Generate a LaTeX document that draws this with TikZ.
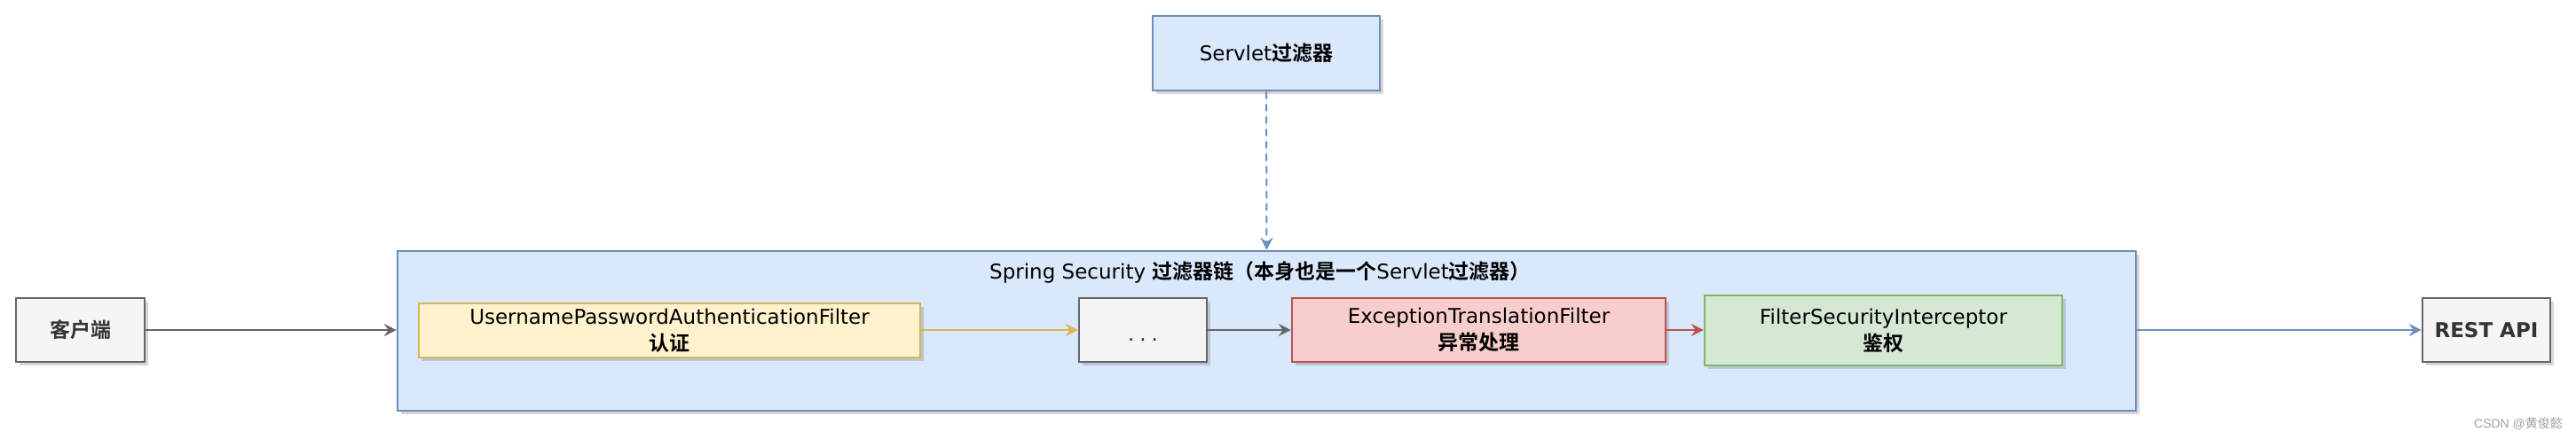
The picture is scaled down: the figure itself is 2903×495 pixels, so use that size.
\documentclass[tikz,border=0pt]{standalone}
\usepackage{fontspec}
\setmainfont{DejaVu Sans}
\newfontfamily\cjk{Noto Sans CJK SC}[BoldFont={Noto Sans CJK SC Bold}]
\newfontfamily\wmfont{Liberation Sans}
\usetikzlibrary{arrows.meta,shadows}
\definecolor{bluefill}{HTML}{DAE8FC}
\definecolor{bluedraw}{HTML}{6C8EBF}
\definecolor{yellowfill}{HTML}{FFF2CC}
\definecolor{yellowdraw}{HTML}{D6B656}
\definecolor{redfill}{HTML}{F8CECC}
\definecolor{reddraw}{HTML}{B85450}
\definecolor{greenfill}{HTML}{D5E8D4}
\definecolor{greendraw}{HTML}{82B366}
\definecolor{grayfill}{HTML}{F5F5F5}
\definecolor{graydraw}{HTML}{666666}
\definecolor{graytext}{HTML}{333333}
\definecolor{wmgray}{HTML}{A0A0A0}
\newcommand{\zh}[1]{{\cjk\bfseries #1}}
\tikzset{
  box/.style={draw, rectangle, line width=1.25pt, align=center, inner sep=0pt,
    font=\fontsize{11.5}{15}\selectfont,
    drop shadow={shadow xshift=2pt, shadow yshift=-2pt, opacity=0.22, fill=black!70}},
  graybox/.style={box, fill=grayfill, draw=graydraw, text=graytext},
  bluebox/.style={box, fill=bluefill, draw=bluedraw, text=black},
  yellowbox/.style={box, fill=yellowfill, draw=yellowdraw, text=black},
  redbox/.style={box, fill=redfill, draw=reddraw, text=black},
  greenbox/.style={box, fill=greenfill, draw=greendraw, text=black},
  conn/.style={line width=1pt, -{Stealth[length=7pt,width=7pt,inset=2.5pt]}},
}
\begin{document}
\begin{tikzpicture}[x=0.5pt,y=-0.5pt]
  \useasboundingbox[fill=white] (0,0) rectangle (2903,495);

  % container
  \node[bluebox, minimum width=979.5pt, minimum height=90pt] (chain) at (1427.5,373) {};
  \node[font=\fontsize{11.5}{15}\selectfont, text=black] (title) at (1420,307)
    {Spring Security \zh{过滤器链（本身也是一个}Servlet\zh{过滤器）}};

  % top servlet filter
  \node[bluebox, minimum width=128pt, minimum height=42pt] (servlet) at (1427,60)
    {Servlet\zh{过滤器}};

  % outside nodes
  \node[graybox, minimum width=72.5pt, minimum height=36pt] (client) at (90.5,372)
    {\zh{客户端}};
  \node[graybox, minimum width=72pt, minimum height=36pt, font=\bfseries\fontsize{11.5}{15}\selectfont] (rest) at (2802,372)
    {REST API};

  % inner filters
  \node[yellowbox, minimum width=282.5pt, minimum height=30.5pt] (upaf) at (754.5,372.5)
    {UsernamePasswordAuthenticationFilter\\\zh{认证}};
  \node[graybox, minimum width=72pt, minimum height=36pt] (dots) at (1288,372)
    {\smash{\raisebox{-6pt}{.\kern3pt.\kern3pt.}}};
  \node[redbox, minimum width=210.5pt, minimum height=36pt] (etf) at (1666.5,372)
    {ExceptionTranslationFilter\\\zh{异常处理}};
  \node[greenbox, minimum width=201.5pt, minimum height=39.5pt] (fsi) at (2122.5,372.5)
    {FilterSecurityInterceptor\\\zh{鉴权}};

  % connectors
  \draw[conn, draw=graydraw, fill=graydraw] (client.east) -- (client.east -| chain.west);
  \draw[conn, draw=yellowdraw, fill=yellowdraw] (upaf.east |- dots.west) -- (dots.west);
  \draw[conn, draw=graydraw, fill=graydraw] (dots.east) -- (etf.west);
  \draw[conn, draw=reddraw, fill=reddraw] (etf.east) -- (etf.east -| fsi.west);
  \draw[conn, draw=bluedraw, fill=bluedraw] (rest.west -| chain.east) -- (rest.west);
  \draw[conn, draw=bluedraw, fill=bluedraw, dash pattern=on 4pt off 3pt] (servlet.south) -- (chain.north);

  % watermark
  \node[font=\wmfont\fontsize{7}{8}\selectfont, text=wmgray] (wm) at (2838,478)
    {CSDN @{\cjk 黄俊懿}};
\end{tikzpicture}
\end{document}
